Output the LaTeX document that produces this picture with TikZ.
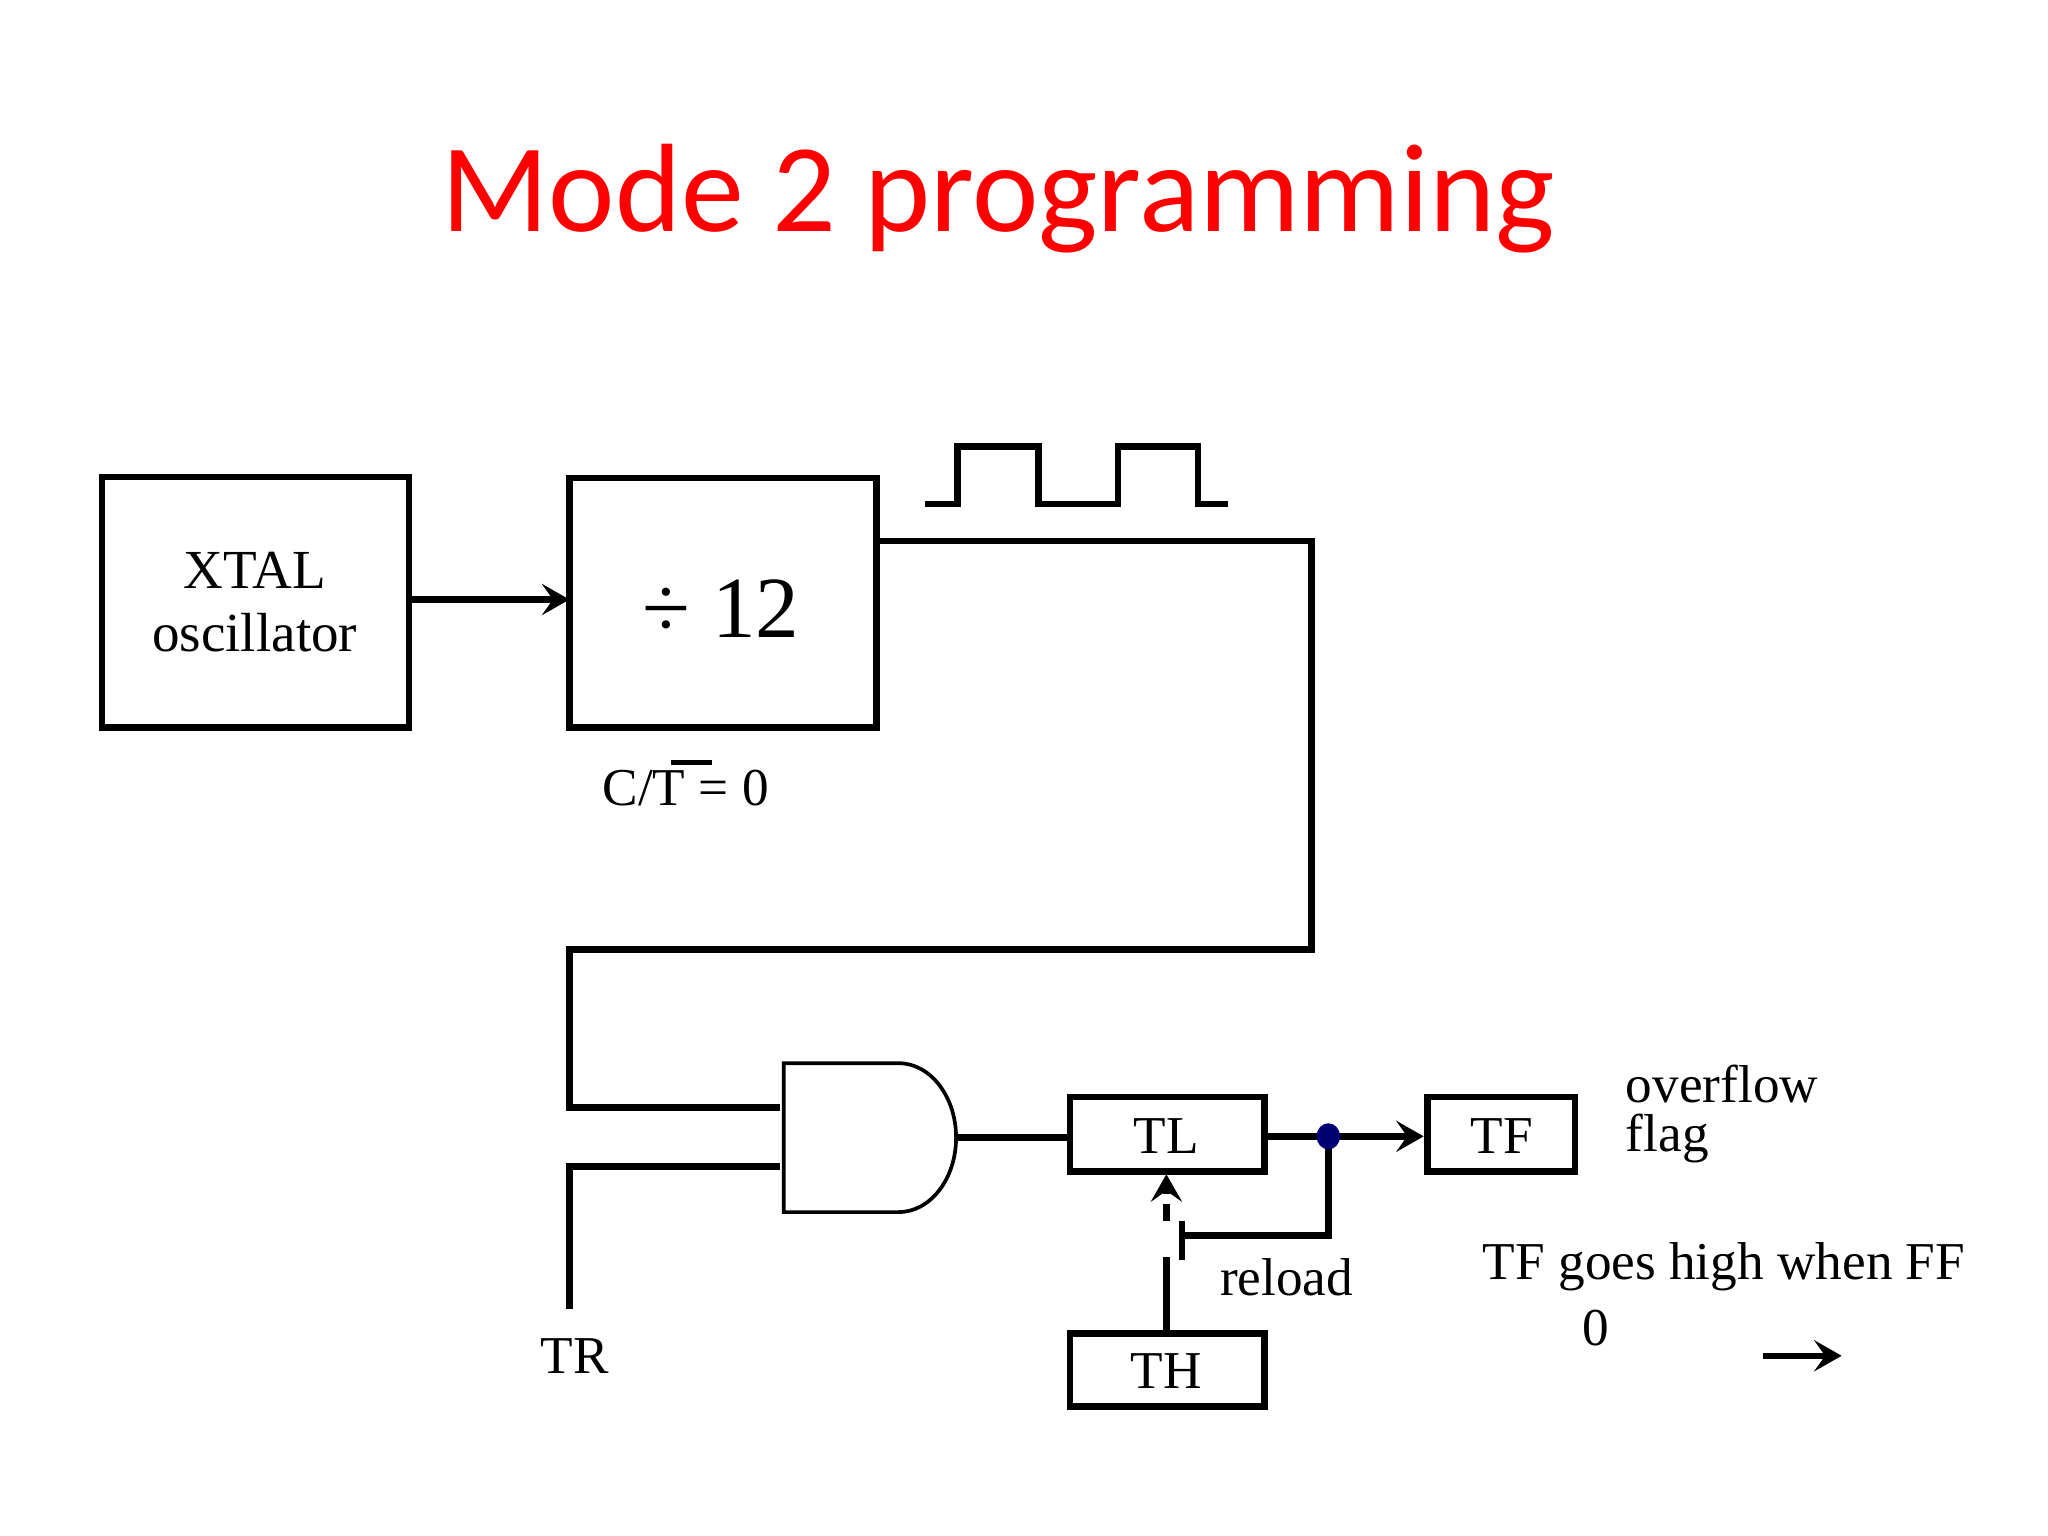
\documentclass[tikz,border=0pt]{standalone}
\usepackage{fontspec}
\setmainfont{Liberation Serif}
\newfontfamily\titlefont{Carlito}
\usetikzlibrary{arrows.meta}
\begin{document}
\begin{tikzpicture}[x=0.05cm,y=-0.05cm,line width=7pt,
  lbl/.style={font=\fontsize{58}{60}\selectfont},
  arr/.style={-{Stealth[length=30pt,width=34pt,inset=12pt]}}]
\useasboundingbox (0,0) rectangle (1568,1176);
\node[font=\titlefont\fontsize{137}{137}\selectfont,text=red] (title) at (764,152) {Mode 2 programming};
\draw (78,365) rectangle (313,557);
\node (xtal) at (195,461) [align=center,font=\fontsize{60}{68}\selectfont] {XTAL\\oscillator};
\draw (436,366) rectangle (671,557);
\node (div) at (552,466) [font=\fontsize{95}{95}\selectfont] {÷ 12};
\coordinate (xr) at (313,459); \coordinate (dl) at (436,459);
\draw[arr] (xr) -- (dl);
\draw (708,386) -- (733,386) -- (733,342) -- (795,342) -- (795,386) -- (856,386) -- (856,342) -- (917,342) -- (917,386) -- (940,386);
\node (ct) at (525,603) [lbl] {C/T = 0};
\draw[line width=5pt] (514,584) -- (545,584);
\coordinate (a1) at (671,414);
\draw (a1) -- (1004,414) -- (1004,727) -- (436,727) -- (436,848) -- (597,848);
\draw (436,1002) -- (436,893) -- (597,893);
\node (tr) at (440,1038) [lbl] {TR};
\draw[line width=4pt] (600,814) -- (688,814) arc[start angle=-90,end angle=90,x radius=44,y radius=57] -- (600,928) -- cycle;
\draw (732,871) -- (819,871);
\draw (819,840) rectangle (968,897); \node (tl) at (893,870) [lbl] {TL};
\draw (1093,840) rectangle (1206,897); \node (tf) at (1150,870) [lbl] {TF};
\draw (819,1021) rectangle (968,1077); \node (th) at (893,1050) [lbl] {TH};
\coordinate (dot) at (1017,870);
\draw (968,870) -- (dot);
\draw[arr] (dot) -- (1090,870);
\draw (dot) -- (1017,946) -- (905,946);
\draw (905,935) -- (905,965);
\draw (893,1021) -- (893,962);
\draw (893,935) -- (893,922);
\draw[arr] (893,914) -- (893,899);
\fill[blue!45!black] (dot) ellipse[x radius=9,y radius=10];
\node (rl) at (985,978) [lbl] {reload};
\node (ov) at (1240,853) [anchor=west,align=left,font=\fontsize{58}{54}\selectfont] {overflow\\flag};
\node (tfh) at (1320,970) [lbl] {TF goes high when FF};
\node (z) at (1222,1017) [lbl] {0};
\draw[arr] (1350,1038) -- (1410,1038);
\end{tikzpicture}
\end{document}
